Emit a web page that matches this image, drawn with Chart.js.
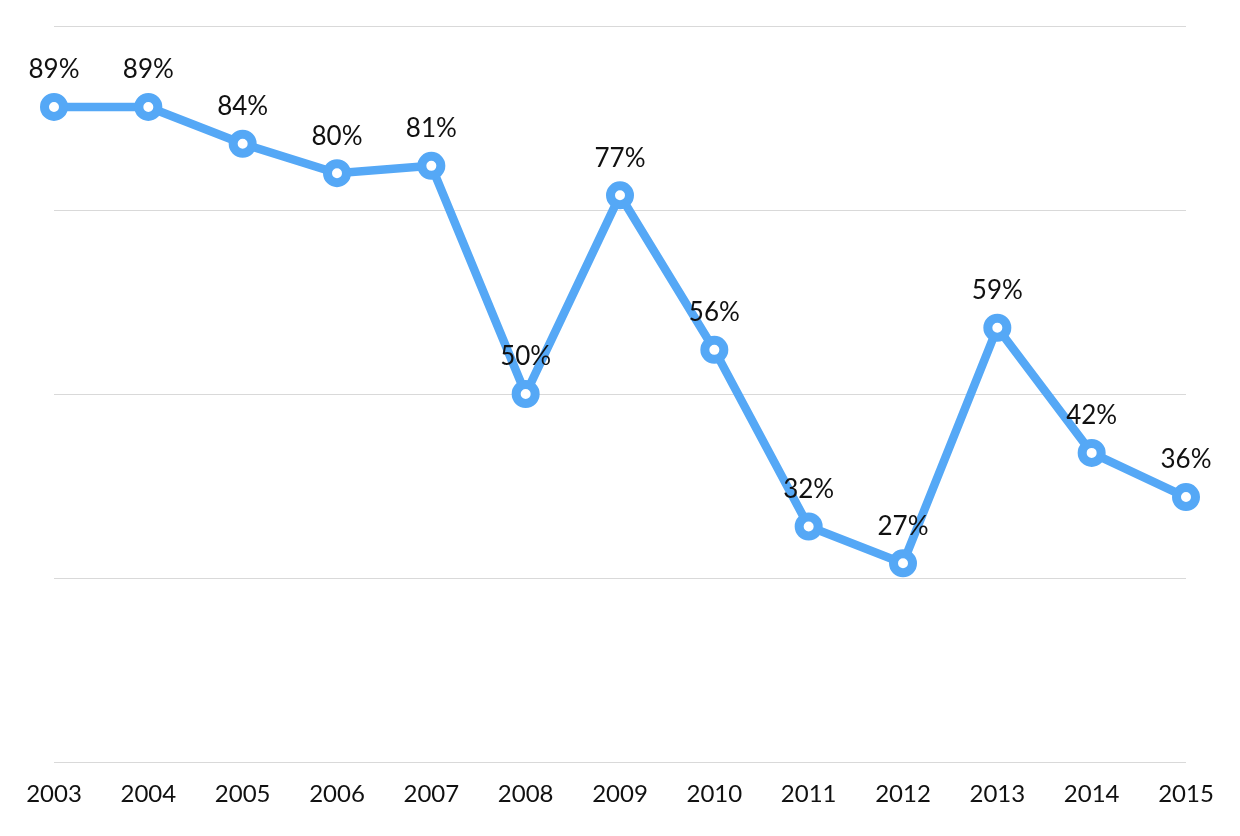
<!DOCTYPE html>
<html>
<head>
<meta charset="utf-8">
<script src="https://cdn.jsdelivr.net/npm/chart.js@4/dist/chart.umd.min.js"></script>
<style>
html,body{margin:0;padding:0;background:#fff;}
#wrap{width:1240px;height:836px;}
</style>
</head>
<body>
<div id="wrap"><canvas id="c" width="1240" height="836"></canvas></div>
<script>
const years = ['2003','2004','2005','2006','2007','2008','2009','2010','2011','2012','2013','2014','2015'];
const values = [89, 89, 84, 80, 81, 50, 77, 56, 32, 27, 59, 42, 36];
const yTicks = [0, 25, 50, 75, 100];

const FONT = 'Lato, "Open Sans", sans-serif';
const BLUE = '#55a8f6';

const labelPlugin = {
  id: 'valueLabels',
  afterDatasetsDraw(chart) {
    const ctx = chart.ctx;
    const meta = chart.getDatasetMeta(0);
    ctx.save();
    ctx.font = '26px ' + FONT;
    ctx.fillStyle = '#111';
    ctx.textAlign = 'center';
    ctx.textBaseline = 'middle';
    meta.data.forEach((pt, i) => {
      ctx.fillText(values[i] + '%', pt.x, pt.y - 37);
    });
    ctx.restore();
  }
};

new Chart(document.getElementById('c'), {
  type: 'line',
  data: {
    labels: years,
    datasets: [{
      data: values,
      borderColor: BLUE,
      borderWidth: 8.5,
      pointRadius: 9.5,
      pointHoverRadius: 9.5,
      pointBorderWidth: 9,
      pointBackgroundColor: '#fff',
      pointBorderColor: BLUE,
      tension: 0,
      clip: false
    }]
  },
  options: {
    responsive: false,
    animation: false,
    devicePixelRatio: 1,
    layout: { padding: { left: 54, right: 54, top: 26, bottom: 0 } },
    plugins: { legend: { display: false }, tooltip: { enabled: false } },
    scales: {
      x: {
        offset: false,
        grid: { display: false, drawTicks: false },
        border: { display: false },
        ticks: { color: '#111', font: { size: 24, family: FONT }, padding: 18, maxRotation: 0, autoSkip: false },
        afterFit(s) { s.height = 74; }
      },
      y: {
        min: 0, max: 100,
        afterBuildTicks(s) { s.ticks = yTicks.map(v => ({ value: v })); },
        ticks: { display: false },
        grid: { color: '#d9d9d9', lineWidth: 1, drawTicks: false },
        border: { display: false },
        afterFit(s) { s.width = 0; }
      }
    }
  },
  plugins: [labelPlugin]
});
</script>
</body>
</html>
